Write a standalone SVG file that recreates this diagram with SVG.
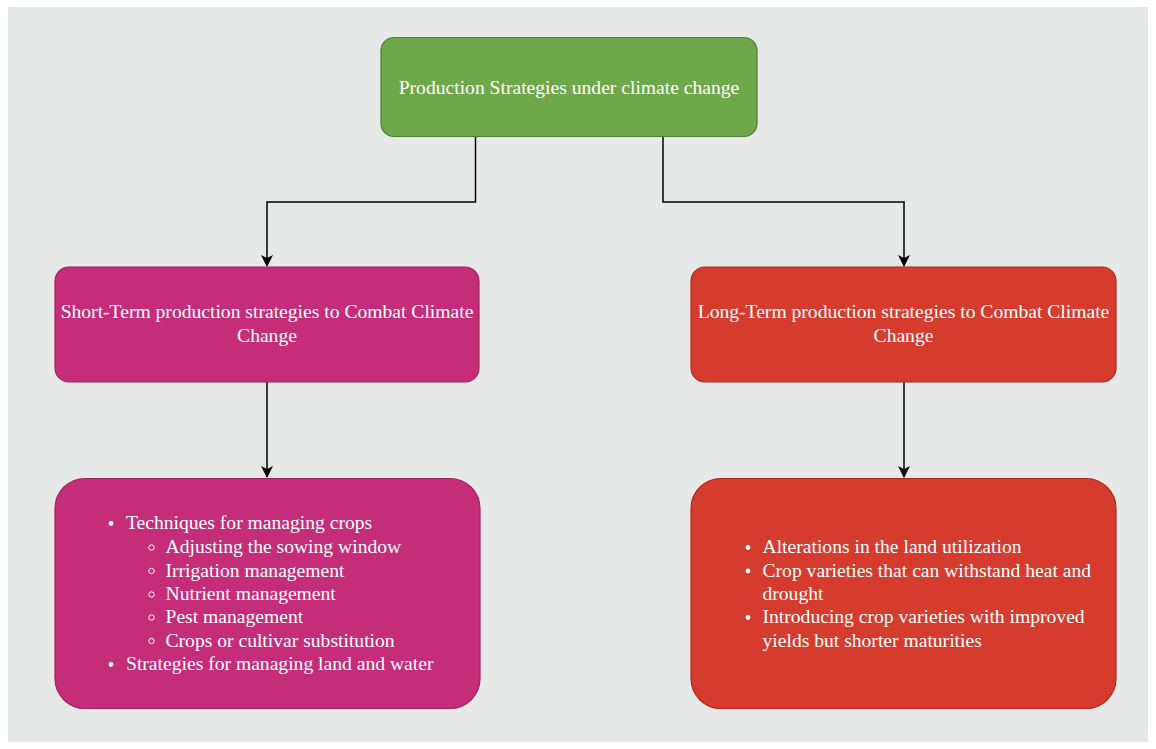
<svg xmlns="http://www.w3.org/2000/svg" width="1156" height="749" viewBox="0 0 1156 749">
<style>
.t{font-family:"Liberation Serif","Times New Roman",serif;font-size:19.6px;fill:#ffffff}
.c{text-anchor:middle}
.e{fill:none;stroke:#000;stroke-width:1.5}
</style>
<defs>
<marker id="ah" viewBox="0 0 12 12" refX="11" refY="6" markerWidth="12" markerHeight="12" markerUnits="userSpaceOnUse" orient="auto">
<path d="M0,0 L12,6 L0,12 L3,6 Z" fill="#000"/>
</marker>
</defs>
<rect x="0" y="0" width="1156" height="749" fill="#ffffff"/>
<rect x="8" y="7" width="1140" height="735" fill="#e7e9e8"/>
<g id="connectors">
<path class="e" d="M475.5,137 V202 H267 V266" marker-end="url(#ah)"/>
<path class="e" d="M663,137 V202 H904 V266" marker-end="url(#ah)"/>
<path class="e" d="M267,382 V477" marker-end="url(#ah)"/>
<path class="e" d="M904,382 V477" marker-end="url(#ah)"/>
</g>
<g id="root">
<rect x="381" y="37.5" width="376" height="99" rx="13" fill="#6fa84a" stroke="#4d7c33" stroke-width="1.2"/>
<text class="t c" x="569" y="94">Production Strategies under climate change</text>
</g>
<g id="short">
<rect x="55" y="267" width="424" height="115" rx="14" fill="#c52d7a" stroke="#a2235f" stroke-width="1.2"/>
<text class="t c" x="267" y="318">Short-Term production strategies to Combat Climate</text>
<text class="t c" x="267" y="342">Change</text>
</g>
<g id="long">
<rect x="691" y="267" width="425" height="115" rx="14" fill="#d63c2e" stroke="#b2281e" stroke-width="1.2"/>
<text class="t c" x="903.5" y="318">Long-Term production strategies to Combat Climate</text>
<text class="t c" x="903.5" y="342">Change</text>
</g>
<g id="short-details">
<rect x="55" y="478.5" width="425" height="230" rx="30" fill="#c52d7a" stroke="#a2235f" stroke-width="1.2"/>
<circle cx="111" cy="523.5" r="2.4" fill="#fff"/>
<text class="t" x="126" y="529">Techniques for managing crops</text>
<circle cx="151.5" cy="547.5" r="2.7" fill="none" stroke="#fff" stroke-width="1"/>
<text class="t" x="165.5" y="553">Adjusting the sowing window</text>
<circle cx="151.5" cy="571" r="2.7" fill="none" stroke="#fff" stroke-width="1"/>
<text class="t" x="165.5" y="576.5">Irrigation management</text>
<circle cx="151.5" cy="594.5" r="2.7" fill="none" stroke="#fff" stroke-width="1"/>
<text class="t" x="165.5" y="600">Nutrient management</text>
<circle cx="151.5" cy="617.5" r="2.7" fill="none" stroke="#fff" stroke-width="1"/>
<text class="t" x="165.5" y="623">Pest management</text>
<circle cx="151.5" cy="641" r="2.7" fill="none" stroke="#fff" stroke-width="1"/>
<text class="t" x="165.5" y="646.5">Crops or cultivar substitution</text>
<circle cx="111" cy="664.5" r="2.4" fill="#fff"/>
<text class="t" x="126" y="670">Strategies for managing land and water</text>
</g>
<g id="long-details">
<rect x="691" y="478.5" width="425" height="230" rx="30" fill="#d63c2e" stroke="#b2281e" stroke-width="1.2"/>
<circle cx="748" cy="547.5" r="2.4" fill="#fff"/>
<text class="t" x="762.5" y="553">Alterations in the land utilization</text>
<circle cx="748" cy="571" r="2.4" fill="#fff"/>
<text class="t" x="762.5" y="576.5">Crop varieties that can withstand heat and</text>
<text class="t" x="762.5" y="600">drought</text>
<circle cx="748" cy="617.5" r="2.4" fill="#fff"/>
<text class="t" x="762.5" y="623">Introducing crop varieties with improved</text>
<text class="t" x="762.5" y="646.5">yields but shorter maturities</text>
</g>
</svg>
